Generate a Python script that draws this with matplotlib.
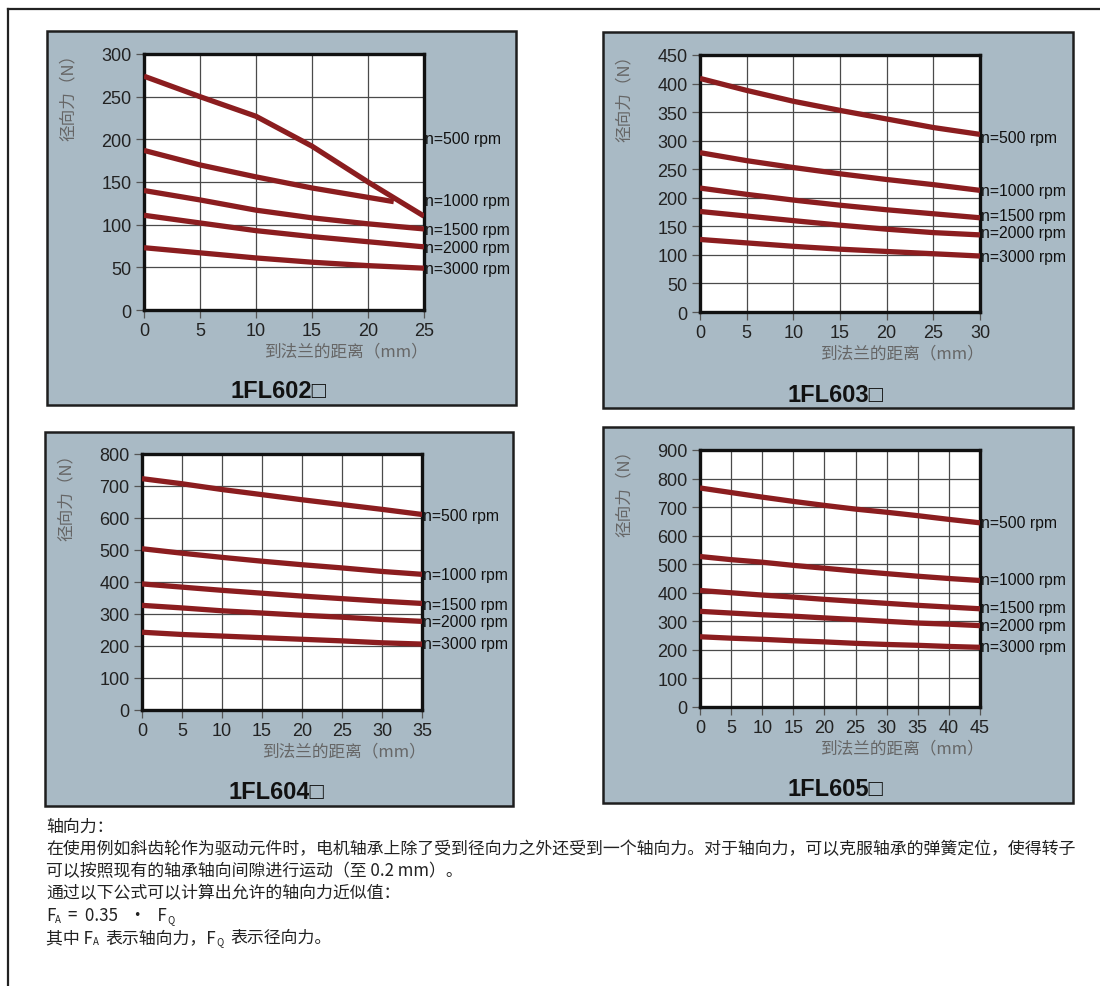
import matplotlib
matplotlib.use("Agg")
import matplotlib.pyplot as plt
from matplotlib.patches import Rectangle
from matplotlib.lines import Line2D

# ------------------------------------------------------------
# Data
# ------------------------------------------------------------

SPEEDS = ["n=500 rpm", "n=1000 rpm", "n=1500 rpm", "n=2000 rpm", "n=3000 rpm"]

# 1FL602
x_602 = [0, 5, 10, 15, 20, 25]
f602_500 = [274, 250, 227, 192, 150, 110]
x_602_1000 = [0, 5, 10, 15, 20, 22.3]
f602_1000 = [187, 170, 156, 143, 132, 127]
f602_1500 = [140, 129, 117, 108, 101, 95]
f602_2000 = [111, 102, 93, 86, 80, 74]
f602_3000 = [73, 67, 61, 56, 52, 49]
lab_602 = [201, 128, 94, 73, 49]

# 1FL603
x_603 = [0, 5, 10, 15, 20, 25, 30]
f603_500 = [409, 388, 369, 353, 338, 323, 311]
f603_1000 = [279, 265, 253, 242, 232, 223, 213]
f603_1500 = [217, 206, 196, 187, 179, 172, 165]
f603_2000 = [176, 168, 160, 152, 145, 139, 135]
f603_3000 = [127, 121, 115, 110, 106, 102, 98]
lab_603 = [305, 212, 169, 140, 97]

# 1FL604
x_604 = [0, 5, 10, 15, 20, 25, 30, 35]
f604_500 = [723, 707, 689, 673, 657, 642, 627, 611]
f604_1000 = [504, 490, 477, 465, 454, 444, 433, 424]
f604_1500 = [394, 384, 374, 365, 356, 348, 340, 333]
f604_2000 = [327, 319, 310, 303, 296, 290, 283, 277]
f604_3000 = [243, 236, 231, 226, 221, 216, 210, 206]
lab_604 = [608, 424, 331, 277, 207]

# 1FL605
x_605 = [0, 5, 10, 15, 20, 25, 30, 35, 40, 45]
f605_500 = [767, 751, 735, 720, 706, 693, 682, 670, 657, 645]
f605_1000 = [527, 516, 507, 496, 486, 476, 467, 458, 450, 443]
f605_1500 = [408, 400, 392, 385, 377, 370, 363, 356, 350, 344]
f605_2000 = [335, 329, 323, 318, 312, 306, 300, 294, 290, 285]
f605_3000 = [246, 241, 237, 232, 228, 223, 219, 216, 212, 209]
lab_605 = [645, 446, 348, 287, 211]

TEXT_LINES = [
    "轴向力：",
    "在使用例如斜齿轮作为驱动元件时，电机轴承上除了受到径向力之外还受到一个轴向力。对于轴向力，可以克服轴承的弹簧定位，使得转子",
    "可以按照现有的轴承轴向间隙进行运动（至 0.2 mm）。",
    "通过以下公式可以计算出允许的轴向力近似值：",
]

# pieces of the last two lines: (text, is_subscript)
FORMULA = [("F", False), ("A", True), ("=  0.35   •   F", False), ("Q", True)]
NOTE = [("其中 F", False), ("A", True), ("表示轴向力，F", False), ("Q", True), ("表示径向力。", False)]

# ------------------------------------------------------------
# Style
# ------------------------------------------------------------

W, H = 1100, 987
PANEL_BG = "#a9bac5"
CURVE = "#8b1d1f"
CJK = ["Noto Sans CJK SC", "DejaVu Sans"]

plt.rcParams["font.family"] = ["Liberation Sans", "Noto Sans CJK SC", "DejaVu Sans"]

fig = plt.figure(figsize=(W / 100, H / 100), dpi=100)
fig.patch.set_facecolor("white")


def fx(px):
    return px / W


def fy(py):
    return 1 - py / H


# outer frame: top and left line only
fig.add_artist(Line2D([fx(8), fx(1100)], [fy(10), fy(10)], color="#222222", lw=1.6))
fig.add_artist(Line2D([fx(8), fx(8)], [fy(10), fy(987)], color="#222222", lw=1.6))


# ============================================================
# One chart panel
# ============================================================

def draw_panel(box, ax_box, title, curves, xmax, ymax, ystep, label_y):

    bx0, by0, bx1, by1 = box
    fig.add_artist(Rectangle((fx(bx0), fy(by1)), fx(bx1 - bx0), (by1 - by0) / H,
                             facecolor=PANEL_BG, edgecolor="#1e1e1e", lw=1.8,
                             transform=fig.transFigure, zorder=0))

    ax0, ay0, ax1, ay1 = ax_box
    ax = fig.add_axes([fx(ax0), fy(ay1), fx(ax1 - ax0), (ay1 - ay0) / H])
    ax.set_facecolor("white")

    for (cx, cy) in curves:
        ax.plot(cx, cy, color=CURVE, lw=3.8, solid_capstyle="butt", zorder=3)

    ax.set_xlim(0, xmax)
    ax.set_ylim(0, ymax)
    ax.set_xticks(range(0, xmax + 1, 5))
    ax.set_yticks(range(0, ymax + 1, ystep))
    ax.grid(True, color="#4a4a4a", lw=0.9, zorder=1)
    ax.set_axisbelow(True)

    for s in ax.spines.values():
        s.set_linewidth(2.4)
        s.set_color("#111111")

    ax.tick_params(length=6, width=0.9, color="#555555", pad=3,
                   labelsize=13, labelcolor="#222222")

    # right-hand speed labels
    for name, ly in zip(SPEEDS, label_y):
        ax.text(1.005, ly, name, transform=ax.get_yaxis_transform(),
                ha="left", va="center", fontsize=11.3, color="#111111")

    # axis titles
    fig.text(fx(ax1 + 5), fy(ay1 + 41), "到法兰的距离（mm）", ha="right", va="center",
             fontsize=12, family=CJK, color="#666666")
    fig.text(fx(ax0 - 76), fy(ay0 - 9), "径向力（N）", ha="center", va="top",
             rotation=90, fontsize=12, family=CJK, color="#666666")

    # model name
    fig.text(fx((bx0 + bx1) / 2 - 3), fy(by1 - 14), title, ha="center", va="center",
             fontsize=17, weight="bold", color="#111111")


draw_panel((47, 32, 516, 406), (144, 55, 424, 311), "1FL602□",
           [(x_602, f602_500), (x_602_1000, f602_1000), (x_602, f602_1500),
            (x_602, f602_2000), (x_602, f602_3000)],
           25, 300, 50, lab_602)

draw_panel((603, 33, 1073, 409), (700, 56, 980, 313), "1FL603□",
           [(x_603, f603_500), (x_603, f603_1000), (x_603, f603_1500),
            (x_603, f603_2000), (x_603, f603_3000)],
           30, 450, 50, lab_603)

draw_panel((45, 433, 513, 807), (142, 455, 422, 711), "1FL604□",
           [(x_604, f604_500), (x_604, f604_1000), (x_604, f604_1500),
            (x_604, f604_2000), (x_604, f604_3000)],
           35, 800, 100, lab_604)

draw_panel((603, 428, 1073, 804), (700, 451, 980, 708), "1FL605□",
           [(x_605, f605_500), (x_605, f605_1000), (x_605, f605_1500),
            (x_605, f605_2000), (x_605, f605_3000)],
           45, 900, 100, lab_605)

# ------------------------------------------------------------
# Text block under the charts
# ------------------------------------------------------------

TXT = dict(fontsize=12.2, family=CJK, color="#222222", va="center", ha="left")

for i, line in enumerate(TEXT_LINES):
    fig.text(fx(46), fy(827 + i * 22), line, **TXT)

renderer = fig.canvas.get_renderer()


def chain_text(pieces, py):
    # write text pieces one after another, small ones as subscripts
    x = 46
    for s, sub in pieces:
        if sub:
            t = fig.text(fx(x), fy(py + 4), s, fontsize=7, family=CJK,
                         color="#222222", va="center", ha="left")
            x += t.get_window_extent(renderer).width + 7
        else:
            t = fig.text(fx(x), fy(py), s, **TXT)
            x += t.get_window_extent(renderer).width


chain_text(FORMULA, 916)
chain_text(NOTE, 938)

fig.savefig("out.png", dpi=100, facecolor="white")
